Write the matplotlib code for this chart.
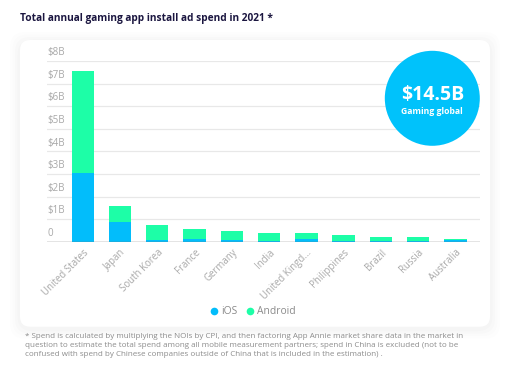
import matplotlib.pyplot as plt
from matplotlib.lines import Line2D
from matplotlib.patches import Circle, FancyBboxPatch
import matplotlib.transforms as mtransforms

countries = ["United States", "Japan", "South Korea", "France", "Germany", "India",
             "United Kingd...", "Philippines", "Brazil", "Russia", "Australia"]
ios = [3.05, 0.88, 0.09, 0.12, 0.07, 0.01, 0.12, 0.01, 0.01, 0.01, 0.06]
total = [7.55, 1.59, 0.73, 0.58, 0.47, 0.40, 0.37, 0.30, 0.21, 0.20, 0.13]
android = [t - i for t, i in zip(total, ios)]
y_ticks = [0, 1, 2, 3, 4, 5, 6, 7, 8]
y_labels = ["0", "$1B", "$2B", "$3B", "$4B", "$5B", "$6B", "$7B", "$8B"]

IOS_COLOR = "#02bdfb"
ANDROID_COLOR = "#1dfea7"
TEXT_GRAY = "#a8a8a8"
FONT = ["Open Sans", "DejaVu Sans"]

plt.rcParams["font.family"] = FONT

fig = plt.figure(figsize=(5.12, 3.79), dpi=100)
fig.patch.set_facecolor("white")
inch = fig.dpi_scale_trans

# soft shadow + white card
for grow, alpha in [(0.20, 0.006), (0.15, 0.008), (0.10, 0.010), (0.05, 0.012)]:
    fig.patches.append(FancyBboxPatch(
        (0.20 - grow / 2, 0.523 - grow / 2 - 0.02), 4.70 + grow, 2.867 + grow,
        boxstyle="round,pad=0,rounding_size=0.15", transform=inch,
        facecolor="#000000", edgecolor="none", alpha=alpha, zorder=0))
fig.patches.append(FancyBboxPatch(
    (0.20, 0.523), 4.70, 2.867, boxstyle="round,pad=0,rounding_size=0.1",
    transform=inch, facecolor="white", edgecolor="none", zorder=1))

fig.text(0.20 / 5.12, 1 - 18 / 379, "Total annual gaming app install ad spend in 2021 *",
         fontsize=7.3, fontweight="bold", color="#1b1640", va="center", ha="left")

ax = fig.add_axes([47.3 / 512, 137.3 / 379, 432.7 / 512, 180.7 / 379])
ax.set_facecolor("none")
ax.set_zorder(2)
x = range(len(countries))
ax.bar(x, ios, width=0.6, color=IOS_COLOR, zorder=3)
ax.bar(x, android, width=0.6, bottom=ios, color=ANDROID_COLOR, zorder=3)
ax.set_xlim(-0.95, 10.66)
ax.set_ylim(0, 8)

for y in y_ticks[1:]:
    ax.axhline(y, color="#e8e8e8", linewidth=0.9, zorder=1)
ax.axhline(0, color="#7a7a7a", linewidth=1.0, zorder=4)
lab_trans = mtransforms.blended_transform_factory(ax.transAxes, ax.transData)
for y, lab in zip(y_ticks, y_labels):
    ax.text(0, y + 0.12, lab, transform=lab_trans, fontsize=7.0, color=TEXT_GRAY,
            ha="left", va="bottom")

for s in ax.spines.values():
    s.set_visible(False)
ax.set_yticks([])
ax.set_xticks(list(x))
ax.set_xticklabels(countries, rotation=45, ha="right", rotation_mode="anchor",
                   fontsize=6.9, color=TEXT_GRAY)
ax.tick_params(axis="x", length=0, pad=4)

# highlight bubble
fig.patches.append(Circle((4.323, 2.807), 0.475, transform=inch,
                          facecolor="#00c2fb", edgecolor="none", zorder=5))
fig.text(4.323 / 5.12, (379 - 95) / 379, "$14.5B", fontsize=14, fontweight="bold",
         color="white", ha="center", va="center", zorder=6)
fig.text(4.323 / 5.12, (379 - 112) / 379, "Gaming global", fontsize=6.2,
         fontweight="bold", color="white", ha="center", va="center", zorder=6)

handles = [Line2D([], [], marker="o", linestyle="none", markersize=5.5,
                  markerfacecolor=c, markeredgecolor="none") for c in (IOS_COLOR, ANDROID_COLOR)]
fig.legend(handles, ["iOS", "Android"], loc="center", bbox_to_anchor=(251.7 / 512, 67.3 / 379),
           ncol=2, frameon=False, fontsize=7.4, labelcolor="#8a8a8a",
           handletextpad=0.0, columnspacing=0.6, handlelength=1.3)

note = ("* Spend is calculated by multiplying the NOIs by CPI, and then factoring App Annie market share data in the market in\n"
        "question to estimate the total spend among all mobile measurement partners; spend in China is excluded (not to be\n"
        "confused with spend by Chinese companies outside of China that is included in the estimation) .")
fig.text(25 / 512, 1 - 333 / 379, note, fontsize=5.8, color="#8c8c8c", ha="left", va="top",
         linespacing=1.42)

fig.savefig("out.png", dpi=100)
